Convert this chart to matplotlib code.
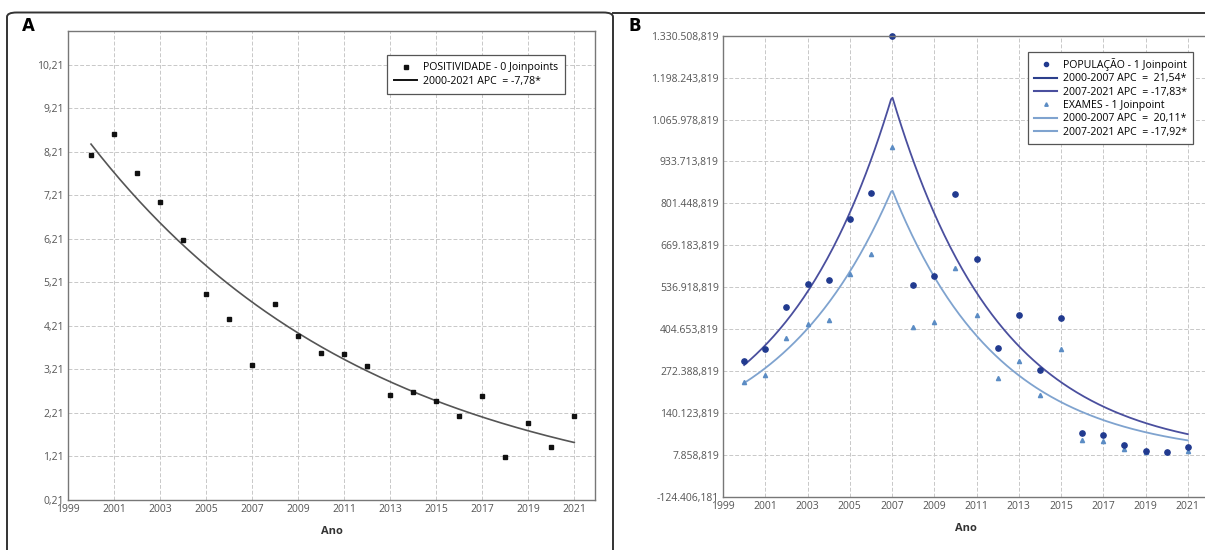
"""Joinpoint trends: positivity rate (A) and population / exams (B)."""

import matplotlib.pyplot as plt
import numpy as np
from matplotlib.lines import Line2D
from matplotlib.patches import FancyBboxPatch

YEARS = list(range(2000, 2022))

# panel A: observed positivity and joinpoint model (0 joinpoints)
POSITIVIDADE = [8.13, 8.62, 7.73, 7.05, 6.19, 4.95, 4.38, 3.32, 4.71, 3.99, 3.60,
                3.56, 3.29, 2.62, 2.69, 2.48, 2.15, 2.61, 1.19, 1.97, 1.43, 2.13]
POS_FIT_START = 8.39
POS_APC = -7.78

# panel B: observed population / exams and joinpoint models (1 joinpoint, 2007)
POPULACAO = [303000, 341000, 473000, 546000, 561000, 753000, 835000, 1330508, 544000,
             573000, 830000, 625000, 344000, 448000, 276000, 441000, 76000, 70000,
             39000, 20000, 16000, 32000]
EXAMES = [238000, 261000, 376000, 420000, 434000, 579000, 642000, 979000, 410000,
          426000, 598000, 449000, 251000, 303000, 197000, 341000, 55000, 51000,
          25000, 17000, 16000, 20000]
JOINPOINT = 2007
POP_PEAK, POP_APC1, POP_APC2 = 1140000, 21.54, -17.83
EXA_PEAK, EXA_APC1, EXA_APC2 = 845000, 20.11, -17.92

A_YTICKS = [0.21, 1.21, 2.21, 3.21, 4.21, 5.21, 6.21, 7.21, 8.21, 9.21, 10.21]
B_YTICKS = [-124406.181, 7858.819, 140123.819, 272388.819, 404653.819, 536918.819,
            669183.819, 801448.819, 933713.819, 1065978.819, 1198243.819, 1330508.819]
XTICKS = list(range(1999, 2022, 2))

C_TICK = "#555555"
C_GRID = "#c8c8c8"
C_POP = "#213a8f"
C_POP_LINE = "#4a4f9e"
C_EXA = "#5b8cc4"
C_EXA_LINE = "#7fa3cf"


def br_fmt(v, dec):
    s = f"{v:,.{dec}f}"
    return s.replace(",", "X").replace(".", ",").replace("X", ".")


def joinpoint_fit(yrs, peak, apc1, apc2):
    up = peak * (1 + apc1 / 100) ** (yrs - JOINPOINT)
    down = peak * (1 + apc2 / 100) ** (yrs - JOINPOINT)
    return np.where(yrs <= JOINPOINT, up, down)


def style_axes(ax, yticks, dec, xlim, ylim):
    ax.set_xlim(*xlim)
    ax.set_ylim(*ylim)
    ax.set_xticks(XTICKS)
    ax.set_yticks(yticks)
    ax.set_yticklabels([br_fmt(v, dec) for v in yticks])
    ax.tick_params(length=0, labelsize=7.5, colors=C_TICK, pad=3)
    ax.grid(True, color=C_GRID, linestyle=(0, (4, 2)), linewidth=0.7)
    ax.set_axisbelow(True)
    for sp in ax.spines.values():
        sp.set_color("#777777")
        sp.set_linewidth(1.0)
    ax.set_xlabel("Ano", fontsize=8, fontweight="bold", color="#333333", labelpad=8)


plt.rcParams["font.family"] = ["Open Sans", "DejaVu Sans"]
fig = plt.figure(figsize=(12.05, 5.5), dpi=100)

# ---- panel frames
fig.add_artist(FancyBboxPatch((7 / 1205, -0.05), 606 / 1205, 1.05 - 12.5 / 550,
                              boxstyle="round,pad=0,rounding_size=0.008",
                              transform=fig.transFigure, fill=False,
                              edgecolor="#333333", linewidth=1.4))
fig.add_artist(Line2D([613 / 1205, 1.0], [1 - 12.5 / 550] * 2, transform=fig.transFigure,
                      color="#333333", linewidth=1.4))
fig.text(22 / 1205, 1 - 26 / 550, "A", fontsize=12, fontweight="bold", va="center",
         family=["DejaVu Sans"])
fig.text(629 / 1205, 1 - 26 / 550, "B", fontsize=12, fontweight="bold", va="center",
         family=["DejaVu Sans"])

# model curves drawn on a fine year grid
yfine = np.linspace(YEARS[0], YEARS[-1], 300)

# ---- panel A
axA = fig.add_axes([68 / 1205, 1 - 500 / 550, 527 / 1205, 469 / 550])
style_axes(axA, A_YTICKS, 2, (1999, 2021.9), (0.21, 10.99))
pos_fit = POS_FIT_START * (1 + POS_APC / 100) ** (yfine - YEARS[0])
axA.plot(yfine, pos_fit, color="#555555", linewidth=1.2)
axA.plot(YEARS, POSITIVIDADE, "s", color="#111111", markersize=3.0, linestyle="none")
hA = [Line2D([], [], marker="s", color="#111111", markersize=2.5, linestyle="none"),
      Line2D([], [], color="#111111", linewidth=1.4)]
legA = axA.legend(hA, ["POSITIVIDADE - 0 Joinpoints", "2000-2021 APC  = -7,78*"],
                  loc="upper left", bbox_to_anchor=(0.605, 0.949), borderaxespad=0,
                  fontsize=7.6, fancybox=False, edgecolor="#555555", framealpha=1,
                  handlelength=2.2, handletextpad=0.5, labelspacing=0.25,
                  borderpad=0.7)
legA.get_frame().set_linewidth(0.9)

# ---- panel B
axB = fig.add_axes([723 / 1205, 1 - 496.7 / 550, 486 / 1205, 461 / 550])
style_axes(axB, B_YTICKS, 3, (1999, 2022), (B_YTICKS[0], B_YTICKS[-1]))
axB.plot(yfine, joinpoint_fit(yfine, POP_PEAK, POP_APC1, POP_APC2),
         color=C_POP_LINE, linewidth=1.3)
axB.plot(yfine, joinpoint_fit(yfine, EXA_PEAK, EXA_APC1, EXA_APC2),
         color=C_EXA_LINE, linewidth=1.3)
axB.plot(YEARS, EXAMES, "^", color=C_EXA, markersize=3, linestyle="none", clip_on=False)
axB.plot(YEARS, POPULACAO, "o", color=C_POP, markersize=3.8, linestyle="none", clip_on=False)
hB = [Line2D([], [], marker="o", color=C_POP, markersize=3, linestyle="none"),
      Line2D([], [], color="#2c3f8c", linewidth=1.5),
      Line2D([], [], color=C_POP_LINE, linewidth=1.5),
      Line2D([], [], marker="^", color=C_EXA, markersize=2.5, linestyle="none"),
      Line2D([], [], color=C_EXA_LINE, linewidth=1.5),
      Line2D([], [], color=C_EXA_LINE, linewidth=1.5)]
labB = ["POPULAÇÃO - 1 Joinpoint", "2000-2007 APC  =  21,54*", "2007-2021 APC  = -17,83*",
        "EXAMES - 1 Joinpoint", "2000-2007 APC  =  20,11*", "2007-2021 APC  = -17,92*"]
legB = axB.legend(hB, labB, loc="upper left", bbox_to_anchor=(0.627, 0.965),
                  borderaxespad=0, fontsize=7.6, fancybox=False, edgecolor="#555555",
                  framealpha=1, handlelength=2.2, handletextpad=0.5,
                  labelspacing=0.22, borderpad=0.6)
legB.get_frame().set_linewidth(0.9)

fig.savefig("out.png", dpi=100)
